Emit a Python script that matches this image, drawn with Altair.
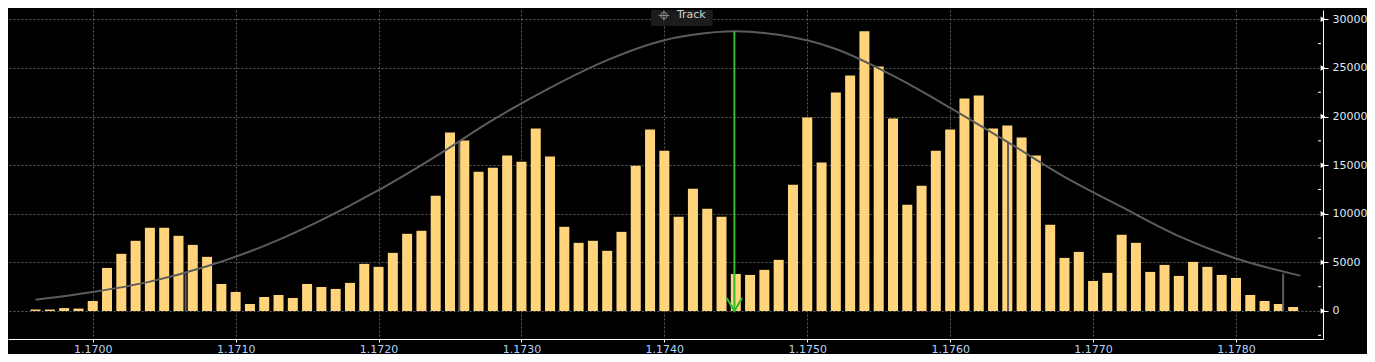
import altair as alt
import pandas as pd

# ---------------- data ----------------
BIN_START = 1.1696
BIN_STEP = 0.0001
VOLUMES = [
    150, 150, 300, 250, 1030, 4430, 5880, 7220, 8560, 8560,
    7730, 6800, 5570, 2780, 1960, 720, 1440, 1650, 1340, 2780,
    2470, 2270, 2890, 4850, 4540, 5980, 7940, 8250, 11860, 18350,
    17530, 14330, 14740, 15980, 15360, 18760, 15880, 8660, 7010, 7220,
    6190, 8140, 14950, 18660, 16490, 9690, 12580, 10520, 9690, 3810,
    3710, 4230, 5260, 12990, 19900, 15260, 22470, 24230, 28760, 25150,
    19790, 10930, 12890, 16490, 18660, 21860, 22160, 18760, 19070, 17840,
    15980, 8870, 5460, 6080, 3090, 3920, 7840, 7010, 4020, 4740,
    3610, 5050, 4540, 3710, 3400, 1650, 1030, 720, 410,
]
PRICES = [round(BIN_START + i * BIN_STEP, 4) for i in range(len(VOLUMES))]

CURVE_X = [1.1696, 1.1700, 1.1704, 1.1708, 1.1712, 1.1716, 1.1720, 1.1724,
           1.1728, 1.1732, 1.1736, 1.1740, 1.1742, 1.1745, 1.1748, 1.1752,
           1.1756, 1.1760, 1.1764, 1.1768, 1.1772, 1.1776, 1.1780, 1.17845]
CURVE_Y = [1160, 1950, 3020, 4600, 6700, 9350, 12420, 15900,
           19650, 22950, 25800, 27850, 28400, 28760, 28400, 26950,
           24200, 20900, 17400, 13800, 10700, 7700, 5400, 3640]

SIGMA_X = [1.17065, 1.172565, 1.176405, 1.17833]
SIGMA_TOP = [3840, 17400, 17380, 3840]

MEAN_X = [1.17449]
MEAN_TOP = [28760]

X_TICKS = [1.1700, 1.1710, 1.1720, 1.1730, 1.1740, 1.1750, 1.1760, 1.1770, 1.1780]
Y_TICKS = [0, 5000, 10000, 15000, 20000, 25000, 30000]
Y_MINOR = [-2500, 2500, 7500, 12500, 17500, 22500, 27500]

TRACK_LABEL = ["Track"]

# ---------------- layout / styling ----------------
X_DOMAIN = [1.169442, 1.178574]
Y_DOMAIN = [-2880, 30957]
W, H = 1315, 329

BG = "#000000"
BAR = "#FFD47A"
CURVE = "#5c5c5c"
GREEN = "#2EBD2E"
GRID = "#5f5f5f"
FONT = "DejaVu Sans"

xscale = alt.Scale(domain=X_DOMAIN, nice=False, zero=False)
yscale = alt.Scale(domain=Y_DOMAIN, nice=False, zero=False)

xaxis = alt.Axis(
    values=X_TICKS, format=".4f", title=None,
    grid=True, gridColor=GRID, gridDash=[2, 2], gridWidth=1,
    domainColor="#ffffff", domainWidth=1,
    tickColor="#ffffff", tickSize=3, tickWidth=1,
    labelColor="#b4d2f4", labelFont=FONT, labelFontSize=11, labelPadding=1,
)
yaxis = alt.Axis(
    orient="right", values=Y_TICKS, format="d", title=None,
    grid=True, gridColor=GRID, gridDash=[2, 2], gridWidth=1,
    domainColor="#ffffff", domainWidth=1,
    tickColor="#ffffff", tickSize=5, tickWidth=1,
    labelColor="#dce9f8", labelFont=FONT, labelFontSize=11, labelPadding=4,
)


def X(field):
    return alt.X(field, type="quantitative", scale=xscale, axis=xaxis)


def Y(field):
    return alt.Y(field, type="quantitative", scale=yscale, axis=yaxis)


XEDGE = alt.X(datum=X_DOMAIN[1], type="quantitative", scale=xscale, axis=xaxis)

df_bars = pd.DataFrame({"price": PRICES, "volume": VOLUMES})
df_curve = pd.DataFrame({"cx": CURVE_X, "cy": CURVE_Y})
df_sig = pd.DataFrame({"sx": SIGMA_X, "stop": SIGMA_TOP})
df_mean = pd.DataFrame({"mx": MEAN_X, "mtop": MEAN_TOP, "base": [0]})
df_major = pd.DataFrame({"v": Y_TICKS})
df_minor = pd.DataFrame({"v": Y_MINOR})

bars = alt.Chart(df_bars).mark_bar(color=BAR, width=10).encode(
    x=X("price"), y=Y("volume"), y2=alt.datum(0),
)

sigma = alt.Chart(df_sig).mark_rule(color=CURVE, strokeWidth=2).encode(
    x=X("sx"), y=Y("stop"), y2=alt.datum(0),
)

curve = alt.Chart(df_curve).mark_line(
    color=CURVE, strokeWidth=2, interpolate="monotone"
).encode(x=X("cx"), y=Y("cy"))

arrow_line = alt.Chart(df_mean).mark_rule(color=GREEN, strokeWidth=2).encode(
    x=X("mx"), y=Y("mtop"), y2=alt.datum(0),
)
arrow_head = alt.Chart(df_mean).mark_point(
    shape="M -1 -1.7 L 0 0 L 1 -1.7", filled=False, stroke=GREEN,
    strokeWidth=2, size=237, opacity=1,
).encode(x=X("mx"), y=Y("base"))

minor_ticks = alt.Chart(df_minor).mark_rule(
    color="#ffffff", strokeWidth=1, x2Offset=3,
).encode(x=XEDGE, x2=alt.datum(X_DOMAIN[1]), y=Y("v"))

major_heads = alt.Chart(df_major).mark_point(
    shape="triangle-right", filled=True, color="#ffffff", size=30,
    opacity=1, xOffset=5,
).encode(x=XEDGE, y=Y("v"))

# "Track" tag near the top
df_track = pd.DataFrame({
    "x1": [1.173907], "x2": [1.174338], "y1": [30957], "y2": [29312],
    "ix": [1.173997], "tx": [1.174088], "ty": [30392], "label": TRACK_LABEL,
})
track_box = alt.Chart(df_track).mark_rect(color="#1c1c1c").encode(
    x=X("x1"), x2="x2", y=Y("y1"), y2="y2",
)
track_ring = alt.Chart(df_track).mark_point(
    shape="circle", filled=False, stroke="#8a8a8a", strokeWidth=1, size=42, opacity=1,
).encode(x=X("ix"), y=Y("ty"))
track_cross = alt.Chart(df_track).mark_point(
    shape="M -1 0 L 1 0 M 0 -1 L 0 1", filled=False, stroke="#8a8a8a",
    strokeWidth=1, size=110, opacity=1,
).encode(x=X("ix"), y=Y("ty"))
track_text = alt.Chart(df_track).mark_text(
    align="left", baseline="middle", font=FONT, fontSize=11, color="#d4d4d4",
).encode(x=X("tx"), y=Y("ty"), text="label:N")

chart = alt.layer(
    bars, sigma, curve, arrow_line, arrow_head, minor_ticks, major_heads,
    track_box, track_ring, track_cross, track_text,
).properties(
    width=W, height=H, padding=0, background=BG,
).configure_view(stroke=None)

chart.save("out.html", embed_options={"renderer": "svg", "actions": False})
